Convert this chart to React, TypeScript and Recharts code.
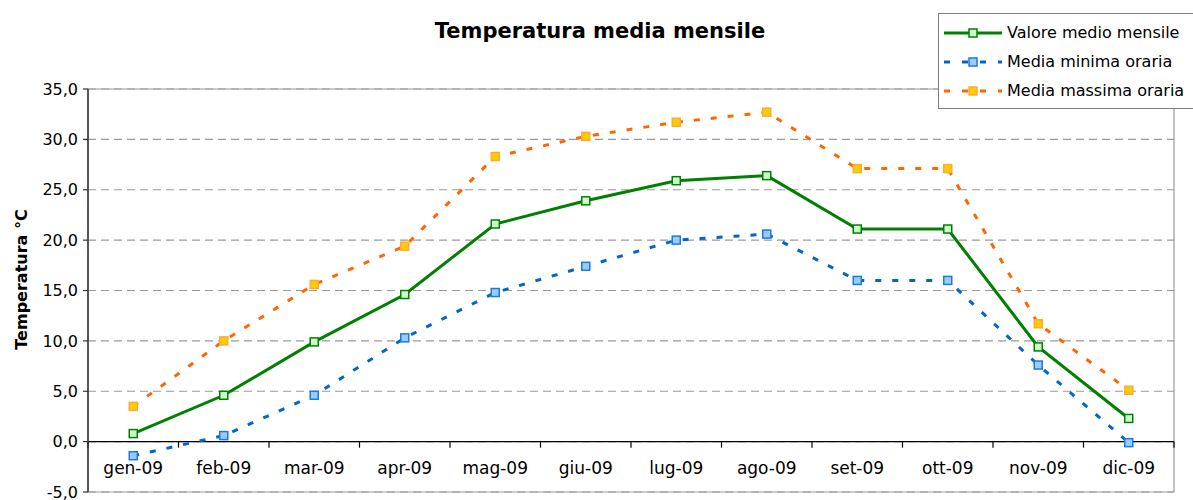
import React from "react";
import {
  LineChart,
  Line,
  XAxis,
  YAxis,
  CartesianGrid,
  Legend,
  ReferenceLine,
  ReferenceArea,
} from "recharts";

const months = ["gen-09", "feb-09", "mar-09", "apr-09", "mag-09", "giu-09", "lug-09", "ago-09", "set-09", "ott-09", "nov-09", "dic-09"];
const valoreMedio = [0.8, 4.6, 9.9, 14.6, 21.6, 23.9, 25.9, 26.4, 21.1, 21.1, 9.4, 2.3];
const mediaMinima = [-1.4, 0.6, 4.6, 10.3, 14.8, 17.4, 20.0, 20.6, 16.0, 16.0, 7.6, -0.1];
const mediaMassima = [3.5, 10.0, 15.6, 19.4, 28.3, 30.3, 31.7, 32.7, 27.1, 27.1, 11.7, 5.1];
const yTicks = [-5, 0, 5, 10, 15, 20, 25, 30, 35];

const FONT = "'DejaVu Sans', Verdana, sans-serif";

const data = months.map((m, i) => ({
  month: m,
  medio: valoreMedio[i],
  minima: mediaMinima[i],
  massima: mediaMassima[i],
}));

const series = [
  { key: "medio", name: "Valore medio mensile", stroke: "#008000", fill: "#ccffcc", edge: "#008000", dash: undefined as string | undefined, width: 3 },
  { key: "minima", name: "Media minima oraria", stroke: "#0066cc", fill: "#99ccff", edge: "#1a7ae0", dash: "6 11", width: 3 },
  { key: "massima", name: "Media massima oraria", stroke: "#ff6600", fill: "#ffcc00", edge: "#ffaa33", dash: "6 11", width: 3 },
];

const squareDot = (fill: string, stroke: string) => (props: any) => {
  const { cx, cy, index } = props;
  if (cx == null || cy == null) return <g key={`d-${index}`} />;
  return (
    <rect key={`d-${index}`} x={cx - 4} y={cy - 4} width={8} height={8} fill={fill} stroke={stroke} strokeWidth={1.5} />
  );
};

// zero line of the category axis, with tick marks between categories
const ZeroAxis = (props: any) => {
  const { x1, y1, x2 } = props;
  const n = months.length;
  const step = (x2 - x1) / n;
  return (
    <g>
      <line x1={x1} y1={y1} x2={x2} y2={y1} stroke="#000" strokeWidth={1.2} />
      {Array.from({ length: n + 1 }, (_, i) => (
        <line key={i} x1={x1 + i * step} y1={y1} x2={x1 + i * step} y2={y1 + 6} stroke="#000" strokeWidth={1.2} />
      ))}
    </g>
  );
};

const MonthTick = (props: any) => (
  <text x={props.x} y={props.y - 18} textAnchor="middle" fontFamily={FONT} fontSize={17} fill="#000">
    {props.payload.value}
  </text>
);

const YLabel = (props: any) => {
  const vb = props.viewBox;
  const cy = vb.y + vb.height / 2 - 11;
  return (
    <text x={21} y={cy} transform={`rotate(-90 21 ${cy})`} textAnchor="middle" dominantBaseline="central" fontFamily={FONT} fontSize={16} fontWeight="bold" fill="#000">
      Temperatura °C
    </text>
  );
};

const LegendBox = () => (
  <div style={{ border: "1px solid #808080", borderRight: "none", background: "#fff", padding: "4px 0 3px 5px", fontFamily: FONT, fontSize: 16, color: "#000" }}>
    {series.map((s) => (
      <div key={s.key} style={{ display: "flex", alignItems: "center", height: 29 }}>
        <svg width={60} height={12} style={{ marginRight: 3 }}>
          <line x1={0} y1={6} x2={58} y2={6} stroke={s.stroke} strokeWidth={3} strokeDasharray={s.dash ? "6 12" : undefined} />
          <rect x={25} y={2} width={8} height={8} fill={s.fill} stroke={s.edge} strokeWidth={1.5} />
        </svg>
        <span>{s.name}</span>
      </div>
    ))}
  </div>
);

export default function App() {
  return (
    <div style={{ position: "absolute", left: 0, top: 0, width: 1193, height: 500, background: "#fff" }}>
      <div style={{ position: "absolute", left: 0, top: 19, width: 1200, textAlign: "center", fontFamily: FONT, fontSize: 21, fontWeight: "bold", color: "#000" }}>
        Temperatura media mensile
      </div>
      <LineChart width={1193} height={500} data={data} margin={{ top: 89, right: 19, bottom: 0, left: 0 }}>
        <CartesianGrid vertical={false} stroke="#999" strokeDasharray="8 5" strokeWidth={1.2} />
        <ReferenceArea y1={-5} y2={35} fill="none" stroke="#999" strokeWidth={1.2} fillOpacity={0} />
        <XAxis
          dataKey="month"
          scale="band"
          height={8}
          axisLine={false}
          tickLine={false}
          tickSize={0}
          tickMargin={0}
          interval={0}
          tick={<MonthTick />}
        />
        <YAxis
          domain={[-5, 35]}
          ticks={yTicks}
          width={88}
          interval={0}
          tickSize={5}
          tickMargin={5}
          axisLine={{ stroke: "#333", strokeWidth: 1.5 }}
          tickLine={{ stroke: "#333", strokeWidth: 1.2 }}
          tick={{ fontFamily: FONT, fontSize: 16, fill: "#000" }}
          tickFormatter={(v: number) => v.toFixed(1).replace(".", ",")}
          label={<YLabel />}
        />
        <ReferenceLine y={0} shape={<ZeroAxis />} />
        {series.map((s) => (
          <Line
            key={s.key}
            dataKey={s.key}
            name={s.name}
            type="linear"
            stroke={s.stroke}
            strokeWidth={s.width}
            strokeDasharray={s.dash}
            dot={squareDot(s.fill, s.edge)}
            activeDot={false}
            isAnimationActive={false}
          />
        ))}
        <Legend
          layout="vertical"
          align="center"
          verticalAlign="middle"
          content={<LegendBox />}
          wrapperStyle={{ top: 13, left: 938, width: 255, height: 91, bottom: "auto", right: "auto" }}
        />
      </LineChart>
    </div>
  );
}
